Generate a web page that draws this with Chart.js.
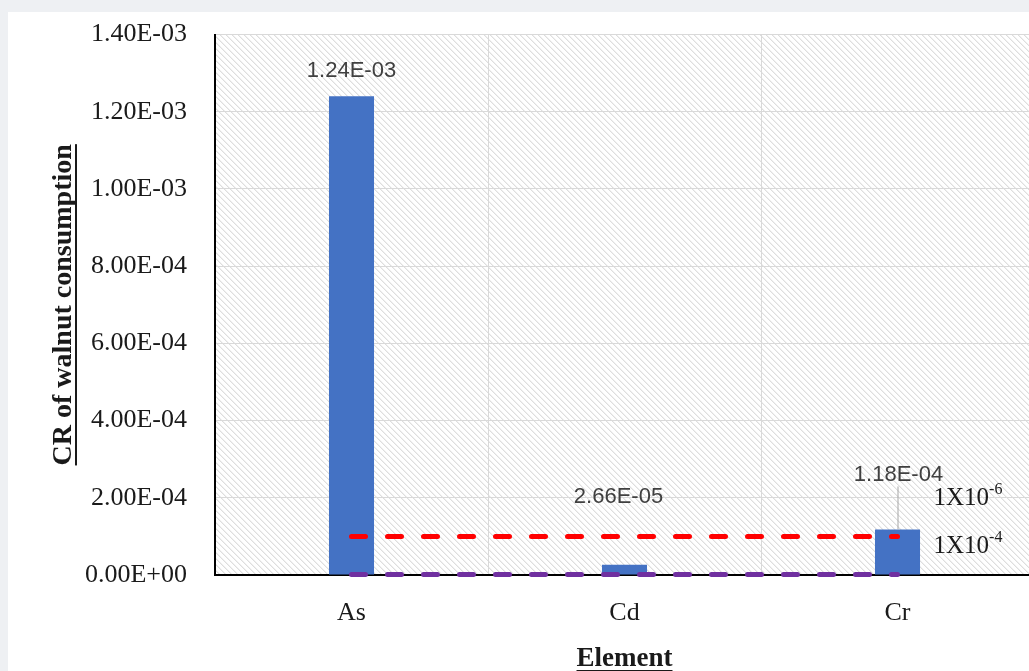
<!DOCTYPE html>
<html>
<head>
<meta charset="utf-8">
<script src="https://cdn.jsdelivr.net/npm/chart.js@4.4.1/dist/chart.umd.min.js"></script>
<style>
  html, body { margin: 0; padding: 0; background: #eef0f3; overflow: hidden; width: 1029px; height: 671px; }
  #card { position: absolute; left: 8px; top: 12px; width: 1040px; height: 659px; background: #ffffff; overflow: hidden; }
  canvas { display: block; margin-top: -21px; }
</style>
</head>
<body>
<div id="card"><canvas id="chart" width="1040" height="680"></canvas></div>
<script>
// Cancer risk (CR) of walnut consumption per element
const elements = ['As', 'Cd', 'Cr'];
const crValues = [1.24e-3, 2.66e-5, 1.18e-4];
const crLabels = ['1.24E-03', '2.66E-05', '1.18E-04'];

// Acceptable risk limits drawn as dashed reference lines
const upperLimit = [1e-4, 1e-4, 1e-4];
const lowerLimit = [1e-6, 1e-6, 1e-6];
const limitBase = '1X10';
const upperLimitExp = '-4';
const lowerLimitExp = '-6';

// Y axis ticks
const yTicks = [0, 2e-4, 4e-4, 6e-4, 8e-4, 1.0e-3, 1.2e-3, 1.4e-3];
const yTickLabels = ['0.00E+00', '2.00E-04', '4.00E-04', '6.00E-04', '8.00E-04', '1.00E-03', '1.20E-03', '1.40E-03'];

const yTitle = 'CR of walnut consumption';
const xTitle = 'Element';

const SERIF = '"Liberation Serif", "DejaVu Serif", serif';
const SANS = '"Liberation Sans", Arial, sans-serif';

// Diagonal hatch fill for the plot area
function makeHatch() {
  const n = 6;
  const c = document.createElement('canvas');
  c.width = n; c.height = n;
  const g = c.getContext('2d');
  const img = g.createImageData(n, n);
  for (let y = 0; y < n; y++) {
    for (let x = 0; x < n; x++) {
      const d = ((x - y) % n + n) % n;
      let v = 255;
      if (d === 0) v = 222;
      else if (d === 1) v = 240;
      const i = (y * n + x) * 4;
      img.data[i] = v; img.data[i + 1] = v; img.data[i + 2] = v; img.data[i + 3] = 255;
    }
  }
  g.putImageData(img, 0, 0);
  return c;
}
const hatchTile = makeHatch();

const hatchBackground = {
  id: 'hatchBackground',
  beforeDraw(chart) {
    const { ctx, chartArea: a } = chart;
    ctx.save();
    ctx.fillStyle = ctx.createPattern(hatchTile, 'repeat');
    ctx.fillRect(a.left, a.top, a.right - a.left, a.bottom - a.top);
    ctx.restore();
  }
};

function underlinedText(ctx, text, x, y, font, rotate) {
  ctx.save();
  ctx.translate(x, y);
  if (rotate) ctx.rotate(-Math.PI / 2);
  ctx.font = font;
  ctx.fillStyle = '#1a1a1a';
  ctx.textAlign = 'center';
  ctx.textBaseline = 'alphabetic';
  const w = ctx.measureText(text).width;
  ctx.fillText(text, 0, 9);
  ctx.fillRect(-w / 2, 13, w, 2);
  ctx.restore();
}

const annotations = {
  id: 'annotations',
  afterDatasetsDraw(chart) {
    const { ctx, scales: { x, y } } = chart;
    ctx.save();

    // value labels above bars
    const offsets = [
      { dx: 0, dy: -25 },
      { dx: -6, dy: -68 },
      { dx: 1, dy: -55, leader: true }
    ];
    ctx.font = '22px ' + SANS;
    ctx.fillStyle = '#404040';
    ctx.textAlign = 'center';
    ctx.textBaseline = 'middle';
    crValues.forEach((v, i) => {
      const px = x.getPixelForValue(i);
      const py = y.getPixelForValue(v);
      const o = offsets[i];
      ctx.fillText(crLabels[i], px + o.dx, py + o.dy);
      if (o.leader) {
        ctx.strokeStyle = '#a6a6a6';
        ctx.lineWidth = 1;
        ctx.beginPath();
        ctx.moveTo(px + 0.5, py + o.dy + 12);
        ctx.lineTo(px + 0.5, py);
        ctx.stroke();
      }
    });

    // limit labels to the right of the reference lines
    const lx = x.getPixelForValue(2) + 36;
    const yUpper = y.getPixelForValue(upperLimit[2]);
    const drawLimit = (exp, py) => {
      ctx.font = '25px ' + SERIF;
      ctx.fillStyle = '#1a1a1a';
      ctx.textAlign = 'left';
      ctx.textBaseline = 'alphabetic';
      ctx.fillText(limitBase, lx, py);
      const w = ctx.measureText(limitBase).width;
      ctx.font = '16px ' + SERIF;
      ctx.fillText(exp, lx + w, py - 11);
    };
    drawLimit(lowerLimitExp, yUpper - 31);
    drawLimit(upperLimitExp, yUpper + 17);

    ctx.restore();

    // axis titles
    const a = chart.chartArea;
    underlinedText(ctx, yTitle, 54, (a.top + a.bottom) / 2, 'bold 28px ' + SERIF, true);
    underlinedText(ctx, xTitle, x.getPixelForValue(1), 666, 'bold 27px ' + SERIF, false);
  }
};

new Chart(document.getElementById('chart'), {
  data: {
    labels: elements,
    datasets: [
      {
        type: 'line',
        data: upperLimit,
        borderColor: '#ff0000',
        borderWidth: 5,
        borderDash: [14, 22],
        borderCapStyle: 'round',
        pointRadius: 0,
        clip: false,
        order: 1
      },
      {
        type: 'line',
        data: lowerLimit,
        borderColor: '#7030a0',
        borderWidth: 5,
        borderDash: [14, 22],
        borderCapStyle: 'round',
        pointRadius: 0,
        clip: false,
        order: 1
      },
      {
        type: 'bar',
        data: crValues,
        backgroundColor: '#4472c4',
        barPercentage: 0.165,
        categoryPercentage: 1,
        order: 2
      }
    ]
  },
  options: {
    responsive: false,
    animation: false,
    events: [],
    layout: { padding: { left: 0, top: 1, right: 14, bottom: 0 } },
    plugins: { legend: { display: false }, tooltip: { enabled: false } },
    scales: {
      x: {
        type: 'category',
        offset: true,
        grid: { offset: true, color: '#d9d9d9', lineWidth: 1, drawTicks: false },
        border: { color: '#000000', width: 2 },
        ticks: { font: { family: SERIF, size: 26 }, color: '#1a1a1a', padding: 23 },
        afterFit(s) { s.height = 96; }
      },
      y: {
        min: 0,
        max: 1.4e-3,
        afterBuildTicks(s) { s.ticks = yTicks.map(v => ({ value: v })); },
        grid: { color: '#d9d9d9', lineWidth: 1, drawTicks: false },
        border: { color: '#000000', width: 2 },
        ticks: {
          font: { family: SERIF, size: 26 },
          color: '#1a1a1a',
          padding: 28,
          callback(v, i) { return yTickLabels[i]; }
        },
        afterFit(s) { s.width = 207; }
      }
    }
  },
  plugins: [hatchBackground, annotations]
});
</script>
</body>
</html>
